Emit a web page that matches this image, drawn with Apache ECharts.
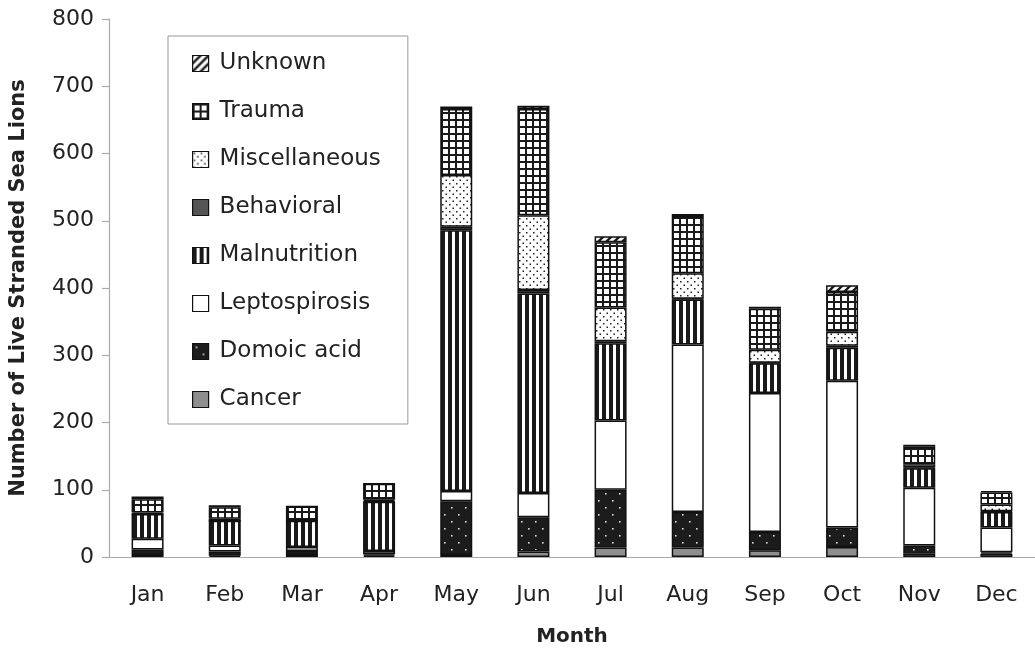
<!DOCTYPE html>
<html><head><meta charset="utf-8">
<script src="https://cdn.jsdelivr.net/npm/echarts@6/dist/echarts.min.js"></script>
<style>html,body{margin:0;padding:0;background:#fff}#c{width:1035px;height:652px}</style>
</head><body><div id="c"></div>
<script>
const months = ['Jan','Feb','Mar','Apr','May','Jun','Jul','Aug','Sep','Oct','Nov','Dec'];
const cancer        = [3, 2, 3, 2, 3, 8, 14, 14, 10, 15, 5, 5];
const domoicAcid    = [8, 6, 6, 2, 80, 51, 86, 53, 27, 29, 12, 2];
const leptospirosis = [16, 9, 6, 5, 15, 36, 103, 249, 207, 218, 86, 37];
const malnutrition  = [37, 37, 39, 73, 388, 297, 115, 67, 44, 49, 29, 23];
const behavioral    = [0, 0, 0, 1, 5, 5, 3, 1, 1, 3, 1, 1];
const miscellaneous = [2, 3, 1, 2, 77, 111, 50, 38, 19, 21, 5, 10];
const trauma        = [20, 17, 20, 24, 98, 158, 97, 85, 61, 59, 26, 18];
const unknown       = [4, 3, 0, 0, 4, 5, 9, 3, 3, 10, 3, 2];
const yTicks = [0, 100, 200, 300, 400, 500, 600, 700, 800];

function pat(w, h, draw) {
  const c = document.createElement('canvas');
  c.width = w; c.height = h;
  const g = c.getContext('2d');
  draw(g, w, h);
  return { image: c, repeat: 'repeat' };
}
const P = {
  cancer: '#8e8e8e',
  domoic: pat(14, 14, (g) => {
    g.fillStyle = '#1c1c1c'; g.fillRect(0, 0, 14, 14);
    g.fillStyle = '#ddd'; g.fillRect(3, 3, 1.6, 1.6); g.fillRect(10, 10, 1.6, 1.6);
  }),
  lepto: '#ffffff',
  mal: pat(7, 7, (g) => {
    g.fillStyle = '#fff'; g.fillRect(0, 0, 7, 7);
    g.fillStyle = '#1a1a1a'; g.fillRect(0, 0, 4, 7);
  }),
  behav: '#555555',
  misc: pat(7, 7, (g) => {
    g.fillStyle = '#fff'; g.fillRect(0, 0, 7, 7);
    g.fillStyle = '#222'; g.fillRect(1, 1, 1.5, 1.5); g.fillRect(4.5, 4.5, 1.5, 1.5);
  }),
  trauma: pat(7, 7, (g) => {
    g.fillStyle = '#fff'; g.fillRect(0, 0, 7, 7);
    g.fillStyle = '#1a1a1a'; g.fillRect(0, 0, 7, 2); g.fillRect(0, 0, 2, 7);
  }),
  unknown: pat(8, 8, (g) => {
    g.fillStyle = '#fff'; g.fillRect(0, 0, 8, 8);
    g.strokeStyle = '#1a1a1a'; g.lineWidth = 2.4;
    g.beginPath(); g.moveTo(-1, 9); g.lineTo(9, -1); g.stroke();
    g.beginPath(); g.moveTo(-1, 1); g.lineTo(1, -1); g.stroke();
    g.beginPath(); g.moveTo(7, 9); g.lineTo(9, 7); g.stroke();
  })
};

const defs = [
  ['Cancer', cancer, P.cancer],
  ['Domoic acid', domoicAcid, P.domoic],
  ['Leptospirosis', leptospirosis, P.lepto],
  ['Malnutrition', malnutrition, P.mal],
  ['Behavioral', behavioral, P.behav],
  ['Miscellaneous', miscellaneous, P.misc],
  ['Trauma', trauma, P.trauma],
  ['Unknown', unknown, P.unknown]
];
const FONT = 'DejaVu Sans';
const chart = echarts.init(document.getElementById('c'), null, { renderer: 'canvas' });
chart.setOption({
  animation: false,
  backgroundColor: '#fff',
  textStyle: { fontFamily: FONT },
  grid: { left: 109, top: 19, width: 932, height: 541, containLabel: false },
  legend: {
    orient: 'vertical', left: 168, top: 36,
    data: defs.map(d => d[0]).reverse(),
    icon: 'rect',
    itemWidth: 16, itemHeight: 16, itemGap: 25,
    padding: [16, 27, 13, 24],
    borderColor: '#999', borderWidth: 1, backgroundColor: '#fff',
    textStyle: { fontFamily: FONT, fontSize: 23, color: '#222', padding: [0, 0, 0, 6] },
    itemStyle: { borderColor: '#111', borderWidth: 1.2 }
  },
  xAxis: {
    type: 'category', data: months,
    name: 'Month', nameLocation: 'middle', nameGap: 70,
    nameTextStyle: { fontFamily: FONT, fontWeight: 'bold', fontSize: 20, color: '#222' },
    axisLine: { lineStyle: { color: '#aaa', width: 1.2 } },
    axisTick: { alignWithLabel: false, length: 7, lineStyle: { color: '#aaa', width: 1.2 } },
    axisLabel: { fontFamily: FONT, fontSize: 22, color: '#222', margin: 27 }
  },
  yAxis: {
    type: 'value', min: yTicks[0], max: yTicks[yTicks.length - 1], interval: 100,
    name: 'Number of Live Stranded Sea Lions', nameLocation: 'middle', nameGap: 80,
    nameTextStyle: { fontFamily: FONT, fontWeight: 'bold', fontSize: 21, color: '#222' },
    axisLine: { show: true, lineStyle: { color: '#aaa', width: 1.2 } },
    axisTick: { show: true, length: 7, lineStyle: { color: '#aaa', width: 1.2 } },
    splitLine: { show: false },
    axisLabel: { fontFamily: FONT, fontSize: 22, color: '#222', margin: 15 }
  },
  series: defs.map(d => ({
    name: d[0], type: 'bar', stack: 'total', data: d[1], barWidth: 32,
    itemStyle: { color: d[2], borderColor: '#111', borderWidth: 1.5 },
    emphasis: { disabled: true }
  }))
});
</script></body></html>
